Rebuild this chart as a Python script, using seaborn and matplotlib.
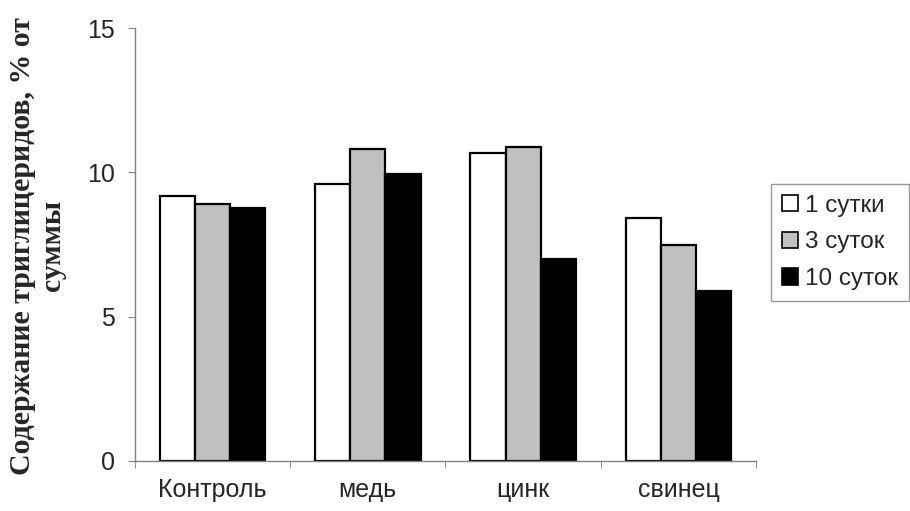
import numpy as np
import pandas as pd
import seaborn as sns
import matplotlib.pyplot as plt

# данные
groups = ["Контроль", "медь", "цинк", "свинец"]
series = ["1 сутки", "3 суток", "10 суток"]
day1 = [9.18, 9.59, 10.67, 8.42]
day3 = [8.90, 10.81, 10.89, 7.47]
day10 = [8.77, 9.96, 7.01, 5.90]
colors = ["white", "#c0c0c0", "black"]

sns.set_style("white")
plt.rcParams["font.family"] = ["Liberation Sans", "DejaVu Sans"]

df = pd.DataFrame({
    "group": groups * 3,
    "series": [series[0]] * 4 + [series[1]] * 4 + [series[2]] * 4,
    "value": day1 + day3 + day10,
})

fig = plt.figure(figsize=(9.1, 5.11), dpi=100)
ax = fig.add_axes([0.148, 0.098, 0.683, 0.847])

sns.barplot(data=df, x="group", y="value", hue="series", order=groups,
            hue_order=series, palette=colors, edgecolor="black",
            linewidth=1.6, width=0.68, saturation=1, errorbar=None, ax=ax)

ax.set_xlim(-0.5, 3.5)
ax.set_ylim(0, 15)
ax.set_yticks([0, 5, 10, 15])
ax.tick_params(axis="y", labelsize=18, length=5, color="#808080", left=True,
               direction="out", pad=9)
ax.tick_params(axis="x", which="major", labelsize=18, length=0, pad=12)
ax.set_xticks(np.arange(-0.5, 4, 1), minor=True)
ax.tick_params(axis="x", which="minor", length=5, color="#808080",
               bottom=True, direction="out")
for s in ["top", "right"]:
    ax.spines[s].set_visible(False)
for s in ["left", "bottom"]:
    ax.spines[s].set_color("#808080")
    ax.spines[s].set_linewidth(1)
ax.set_xlabel("")
ax.set_ylabel("")

fig.text(0.041, 0.519, "Содержание триглицеридов, % от\nсуммы",
         rotation=90, ha="center", va="center", multialignment="center",
         fontsize=21.5, fontweight="bold", family=["Liberation Serif"],
         linespacing=1.15)

leg = ax.legend(loc="center left", bbox_to_anchor=(1.024, 0.505), fontsize=17.5,
                frameon=True, fancybox=False, edgecolor="#808080",
                handlelength=0.65, handleheight=0.65, handletextpad=0.3,
                labelspacing=0.6, borderpad=0.45, borderaxespad=0)
leg.get_frame().set_linewidth(1)
for h in leg.legend_handles:
    h.set_linewidth(1.2)

fig.savefig("out.png", dpi=100)
